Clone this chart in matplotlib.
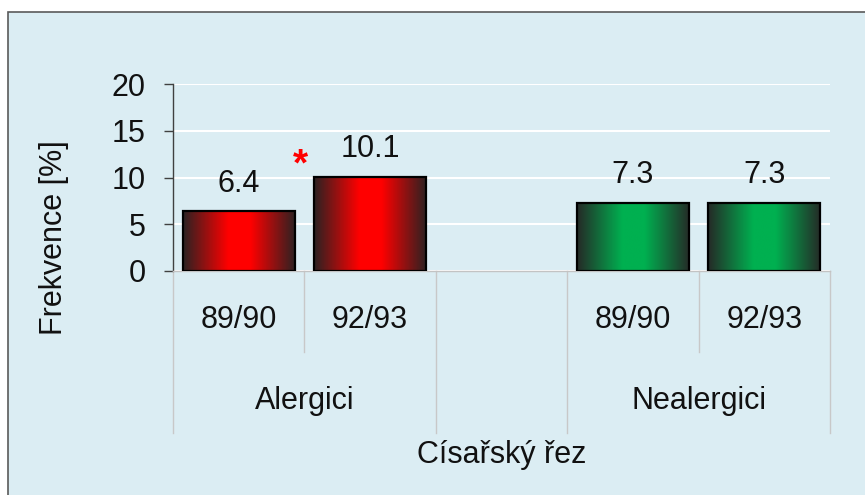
import numpy as np
import matplotlib
matplotlib.use("Agg")
import matplotlib.pyplot as plt
from matplotlib.patches import Rectangle
from matplotlib.transforms import blended_transform_factory
from matplotlib.colors import to_rgb

# ---- data ----
periods = ["89/90", "92/93", "", "89/90", "92/93"]
groups = ["Alergici", "Alergici", "", "Nealergici", "Nealergici"]
values = [6.4, 10.1, None, 7.3, 7.3]
bar_colors = ["#ff0000", "#ff0000", None, "#00b050", "#00b050"]
y_ticks = [0, 5, 10, 15, 20]
y_label = "Frekvence [%]"
x_title = "Císařský řez"
signif_mark = "*"

plt.rcParams["font.family"] = ["Liberation Sans", "DejaVu Sans"]
FS = 22
TXT = "#111111"

fig = plt.figure(figsize=(8.65, 4.95), dpi=100)
fig.patch.set_facecolor("white")
W, H = 865, 495
# framed light-blue background
fig.patches.append(Rectangle((8 / W, -0.1), 1.2, 1.1 - 12 / H, transform=fig.transFigure,
                             facecolor="#dbedf3", edgecolor="#5a5a5a", linewidth=1.2, zorder=-10))

ax = fig.add_axes([173 / W, 1 - 271 / H, (830 - 173) / W, (271 - 84) / H])
ax.set_facecolor("none")
ax.set_zorder(5)

idx = [i for i, v in enumerate(values) if v is not None]
vals = [values[i] for i in idx]
bars = ax.bar(idx, vals, width=0.855, facecolor="none", edgecolor="black", linewidth=1.6, zorder=3)

# gradient fills
n = 256
t = np.linspace(0, 1, n)
f = np.clip((1 - np.abs(2 * t - 1)) / 0.8, 0, 1)
for i, b in zip(idx, bars):
    bright = np.array(to_rgb(bar_colors[i]))
    dark = np.array(to_rgb("#2a2222" if bar_colors[i] == "#ff0000" else "#252a27"))
    grad = dark[None, :] * (1 - f[:, None]) + bright[None, :] * f[:, None]
    grad = grad[None, :, :]
    x0, y0, w, h = b.get_x(), b.get_y(), b.get_width(), b.get_height()
    im = ax.imshow(grad, extent=[x0, x0 + w, y0, y0 + h], aspect="auto", zorder=2,
                   interpolation="bilinear")
    im.set_clip_path(b)
    ax.annotate(f"{values[i]:.1f}", (i, values[i]), xytext=(0, 14), textcoords="offset points",
                ha="center", va="baseline", fontsize=FS, color=TXT, zorder=4)

ax.set_xlim(-0.5, len(periods) - 0.5)
ax.set_ylim(0, 20)
ax.set_yticks(y_ticks)
ax.set_yticklabels([str(v) for v in y_ticks], fontsize=FS, color=TXT)
ax.set_xticks([])
ax.yaxis.grid(True, color="white", linewidth=1.5, zorder=1)
ax.set_axisbelow(True)
for s in ["top", "right"]:
    ax.spines[s].set_visible(False)
ax.spines["left"].set_color("#404040")
ax.spines["left"].set_linewidth(1.0)
ax.spines["bottom"].set_color("#c3c3c3")
ax.spines["bottom"].set_linewidth(1.0)
ax.tick_params(axis="y", length=6.5, width=1.0, color="#404040", pad=13)

# significance mark
ax.text(0.47, 10.2, signif_mark, color="red", fontsize=28, fontweight="bold",
        ha="center", va="baseline", zorder=5)

# multi-level category axis
tr = blended_transform_factory(ax.transData, ax.transAxes)
for i, p in enumerate(periods):
    if p:
        ax.text(i, -0.305, p, transform=tr, ha="center", va="baseline", fontsize=FS, color=TXT)
sep_col = "#c8c8c8"
for k in range(len(periods) + 1):
    b = k - 0.5
    left = groups[k - 1] if k > 0 else None
    right = groups[k] if k < len(groups) else None
    low = -0.433 if (left == right and left) else -0.866
    ax.plot([b, b], [0, low], transform=tr, color=sep_col, linewidth=1.0, clip_on=False, zorder=1)
seen = []
for g in groups:
    if g and g not in seen:
        seen.append(g)
for g in seen:
    pos = [i for i, gg in enumerate(groups) if gg == g]
    ax.text(np.mean(pos), -0.738, g, transform=tr, ha="center", va="baseline", fontsize=FS, color=TXT)
ax.text(0.5, -1.027, x_title, transform=ax.transAxes, ha="center", va="baseline", fontsize=FS, color=TXT)

fig.text(62 / W, 1 - 238 / H, y_label, rotation=90, rotation_mode="anchor",
         ha="center", va="baseline", fontsize=FS, color=TXT)

fig.savefig("out.png", dpi=100, facecolor=fig.get_facecolor())
